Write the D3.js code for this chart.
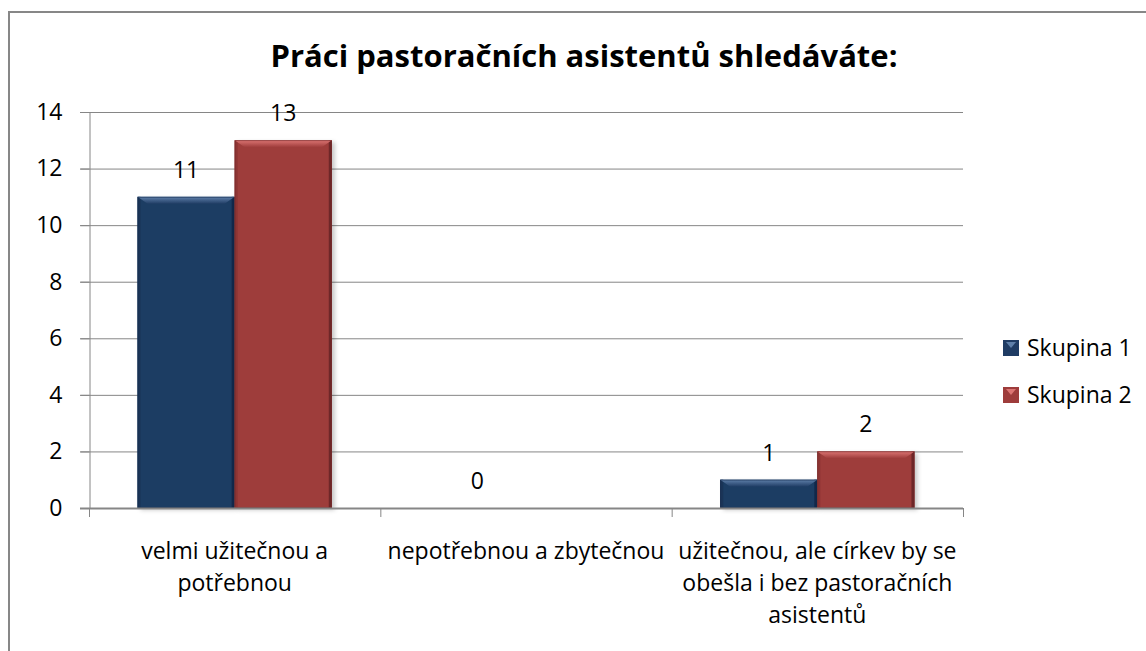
<!DOCTYPE html>
<html>
<head>
<meta charset="utf-8">
<script src="https://cdn.jsdelivr.net/npm/d3@7"></script>
<style>
  body { margin: 0; background: #fff; }
  svg text { font-family: "Open Sans", Lato, sans-serif; fill: #000; }
</style>
</head>
<body>
<div id="chart"></div>
<script>
// chart values
const TITLE = "Práci pastoračních asistentů shledáváte:";
const categories = [
  "velmi užitečnou a potřebnou",
  "nepotřebnou a zbytečnou",
  "užitečnou, ale církev by se obešla i bez pastoračních asistentů"
];
const seriesNames = ["Skupina 1", "Skupina 2"];
const skupina1 = [11, 0, 1];
const skupina2 = [13, null, 2];
const yTicks = [0, 2, 4, 6, 8, 10, 12, 14];

const W = 1146, H = 651;
const M = {top: 112, right: 183, bottom: 143, left: 89};
const FONT = 23;

const COLORS = {
  "Skupina 1": {body: "#1f3c64", top: "#5f80aa", side: "#1a3457", edge: "#12284a"},
  "Skupina 2": {body: "#9e3c3b", top: "#dc7573", side: "#8e3534", edge: "#6e2728"}
};

const svg = d3.select("#chart").append("svg").attr("width", W).attr("height", H);

const defs = svg.append("defs");
defs.append("filter").attr("id", "shadow").attr("x", "-10%").attr("y", "-10%").attr("width", "130%").attr("height", "130%")
  .append("feDropShadow").attr("dx", 3).attr("dy", 2).attr("stdDeviation", 2)
  .attr("flood-color", "#000").attr("flood-opacity", 0.22);
Object.entries(COLORS).forEach(([k, c], i) => {
  const gr = defs.append("linearGradient").attr("id", "top" + i).attr("x1", 0).attr("x2", 0).attr("y1", 0).attr("y2", 1);
  gr.append("stop").attr("offset", "0%").attr("stop-color", c.top);
  gr.append("stop").attr("offset", "100%").attr("stop-color", c.body);
});

// outer frame
svg.append("path")
  .attr("d", `M9,${H + 5} L9,12 L${W + 5},12`)
  .attr("fill", "none").attr("stroke", "#878787").attr("stroke-width", 2);

svg.append("text")
  .attr("x", 584).attr("y", 67)
  .attr("text-anchor", "middle")
  .attr("font-size", 31).attr("font-weight", "bold")
  .text(TITLE);

const x0 = d3.scaleBand().domain(categories).range([M.left, W - M.right]).padding(0);
const x1 = d3.scaleBand().domain(seriesNames).range([0, x0.bandwidth()]).paddingInner(0).paddingOuter(0.5);
const y = d3.scaleLinear().domain([0, 14]).range([H - M.bottom, M.top]);

// gridlines
svg.append("g").selectAll("line").data(yTicks.filter(d => d > 0)).join("line")
  .attr("x1", M.left - 9).attr("x2", W - M.right)
  .attr("y1", d => y(d) + 0.5).attr("y2", d => y(d) + 0.5)
  .attr("stroke", "#868686").attr("stroke-width", 1);

// y axis
const yAxis = svg.append("g").attr("transform", `translate(${M.left + 0.5},0)`)
  .call(d3.axisLeft(y).tickValues(yTicks).tickSize(9).tickPadding(18));
yAxis.select(".domain").attr("stroke", "#868686");
yAxis.selectAll(".tick line").attr("stroke", "#868686");
yAxis.selectAll(".tick text").attr("font-size", FONT).attr("fill", "#000")
  .style("font-family", "'Open Sans', Lato, sans-serif");

// bars
const rows = categories.map((c, i) => ({cat: c, vals: [
  {s: seriesNames[0], i: 0, v: skupina1[i]},
  {s: seriesNames[1], i: 1, v: skupina2[i]}
]}));

const groups = svg.append("g").selectAll("g").data(rows).join("g")
  .attr("transform", d => `translate(${x0(d.cat)},0)`);

const bar = groups.selectAll("g.bar").data(d => d.vals).join("g").attr("class", "bar");

bar.filter(d => d.v > 0).each(function(d) {
  const g = d3.select(this);
  const c = COLORS[d.s];
  const bx = x1(d.s), bw = x1.bandwidth();
  const by = y(d.v), bh = y(0) - y(d.v);
  const b = Math.min(7, bh / 2);
  g.append("rect").attr("x", bx).attr("y", by).attr("width", bw).attr("height", bh)
    .attr("fill", c.body).attr("filter", "url(#shadow)");
  // side bevels
  g.append("rect").attr("x", bx).attr("y", by).attr("width", 3).attr("height", bh).attr("fill", c.side);
  g.append("rect").attr("x", bx + bw - 3).attr("y", by).attr("width", 3).attr("height", bh).attr("fill", c.edge);
  // top bevel
  g.append("path").attr("fill", `url(#top${d.i})`)
    .attr("d", `M${bx},${by} L${bx + bw},${by} L${bx + bw - 3 - b},${by + b} L${bx + 3 + b},${by + b} Z`);
  g.append("rect").attr("x", bx + 0.4).attr("y", by + 0.4).attr("width", bw - 0.8).attr("height", bh - 0.8)
    .attr("fill", "none").attr("stroke", c.edge).attr("stroke-width", 0.8).attr("stroke-opacity", 0.7);
});

// value labels
bar.filter(d => d.v !== null).append("text")
  .attr("x", d => x1(d.s) + x1.bandwidth() / 2)
  .attr("y", d => y(d.v) - 19)
  .attr("text-anchor", "middle")
  .attr("font-size", FONT)
  .text(d => d.v);

// x axis line and ticks
svg.append("line")
  .attr("x1", M.left - 9).attr("x2", W - M.right)
  .attr("y1", y(0) + 0.5).attr("y2", y(0) + 0.5)
  .attr("stroke", "#868686").attr("stroke-width", 2);
const sep = categories.map(c => x0(c)).concat([W - M.right]);
svg.append("g").selectAll("line").data(sep).join("line")
  .attr("x1", d => d + 0.5).attr("x2", d => d + 0.5)
  .attr("y1", y(0)).attr("y2", y(0) + 9)
  .attr("stroke", "#868686");

// category labels with wrapping
const catText = svg.append("g").selectAll("text").data(categories).join("text")
  .attr("x", d => x0(d) + x0.bandwidth() / 2)
  .attr("y", 559)
  .attr("text-anchor", "middle")
  .attr("font-size", FONT);

catText.each(function(d) {
  const t = d3.select(this);
  const words = d.split(" ");
  const maxW = x0.bandwidth() - 2;
  let line = [];
  let tspan = t.append("tspan").attr("x", t.attr("x")).attr("dy", 0);
  words.forEach(w => {
    line.push(w);
    tspan.text(line.join(" "));
    if (tspan.node().getComputedTextLength() > maxW && line.length > 1) {
      line.pop();
      tspan.text(line.join(" "));
      line = [w];
      tspan = t.append("tspan").attr("x", t.attr("x")).attr("dy", 32).text(w);
    }
  });
});

// legend
const leg = svg.append("g").attr("transform", "translate(1003,348)");
const li = leg.selectAll("g").data(seriesNames).join("g")
  .attr("transform", (d, i) => `translate(0,${i * 47})`);
li.append("rect").attr("x", 0).attr("y", -8).attr("width", 16).attr("height", 16)
  .attr("fill", d => COLORS[d].body);
li.append("path").attr("fill", d => COLORS[d].top)
  .attr("d", "M3,-6 L13,-6 L8,0 Z");
li.append("text").attr("x", 24).attr("y", 8).attr("font-size", FONT).text(d => d);
</script>
</body>
</html>
